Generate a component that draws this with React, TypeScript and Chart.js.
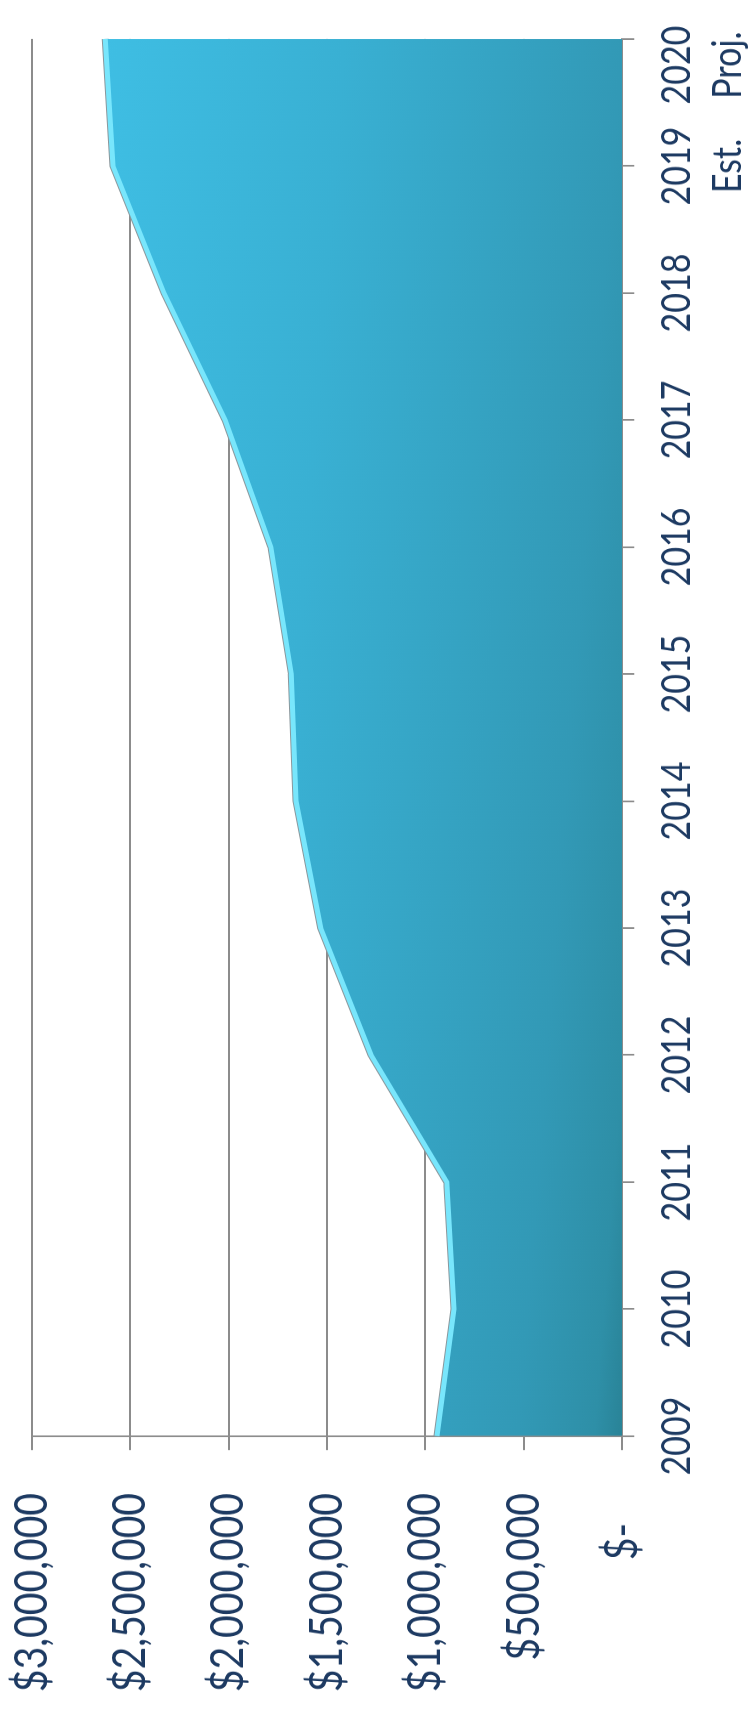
import React, { useEffect, useRef } from 'react';
import { Chart, registerables } from 'chart.js';

Chart.register(...registerables);

// ---- data ----
const categories: (string | string[])[] = [
  '2009', '2010', '2011', '2012', '2013', '2014', '2015', '2016', '2017', '2018',
  ['2019', 'Est.'],
  ['2020      ', 'Proj.      '],
];
const revenue = [941000, 855000, 892000, 1276000, 1532000, 1657000, 1681000, 1785000, 2018000, 2328000, 2587000, 2627000];
const valueTicks = [0, 500000, 1000000, 1500000, 2000000, 2500000, 3000000];
const valueTickLabels = ['$-   ', '$500,000', '$1,000,000', '$1,500,000', '$2,000,000', '$2,500,000', '$3,000,000'];

// ---- geometry (unrotated chart frame) ----
const PAGE_LEN = 1721;
const CANVAS_W = 2025;
const CANVAS_H = 749;
const SX = PAGE_LEN / CANVAS_W;

export default function App() {
  const ref = useRef<HTMLCanvasElement | null>(null);

  useEffect(() => {
    if (!ref.current) return;
    const labelColor = '#1d3a62';
    const gridColor = '#8c8c8c';

    const fillGradient = (ctx: any) => {
      const chart = ctx.chart;
      const ca = chart.chartArea;
      if (!ca) return '#34a8c8';
      const W = ca.right - ca.left;
      const H = ca.bottom - ca.top;
      const a = 0.85;
      const b = 0.15;
      const k = 1 / ((a * a) / (H * H) + (b * b) / (W * W));
      const gv = (k * a) / H;
      const gx = (k * b) / W;
      const g = chart.ctx.createLinearGradient(ca.right, ca.top, ca.right - gx, ca.top + gv);
      g.addColorStop(0, '#40c2e8');
      g.addColorStop(0.45, '#39b0d3');
      g.addColorStop(0.85, '#3299b6');
      g.addColorStop(0.96, '#2e8fa7');
      g.addColorStop(1, '#298397');
      return g;
    };

    const chart = new Chart(ref.current, {
      type: 'line',
      data: {
        labels: categories,
        datasets: [
          {
            data: revenue,
            fill: 'origin',
            backgroundColor: fillGradient,
            borderColor: '#78e6fc',
            borderWidth: 5,
            pointRadius: 0,
            tension: 0,
          },
          {
            data: revenue,
            fill: false,
            borderColor: '#8a979c',
            borderWidth: 7,
            pointRadius: 0,
            tension: 0,
          },
        ],
      },
      options: {
        responsive: false,
        animation: false,
        devicePixelRatio: 1,
        layout: { padding: { top: 31.7, right: 45.9, left: 0, bottom: 0 } },
        plugins: { legend: { display: false }, tooltip: { enabled: false } },
        scales: {
          x: {
            offset: false,
            grid: { drawOnChartArea: false, drawTicks: true, tickLength: 12, color: gridColor, lineWidth: 2 },
            border: { display: true, color: gridColor, width: 2 },
            ticks: {
              color: labelColor,
              font: { family: 'Lato', size: 40, lineHeight: 1.275 },
              padding: 17,
              maxRotation: 0,
              minRotation: 0,
              autoSkip: false,
            },
            afterFit: (scale: any) => {
              scale.height = CANVAS_H - 622.3;
              scale.paddingLeft = 0;
              scale.paddingRight = 0;
            },
          },
          y: {
            min: 0,
            max: 3000000,
            afterBuildTicks: (scale: any) => {
              scale.ticks = valueTicks.map((v) => ({ value: v }));
            },
            grid: { drawOnChartArea: true, drawTicks: true, tickLength: 16.5, color: gridColor, lineWidth: 2 },
            border: { display: true, color: gridColor, width: 2 },
            ticks: {
              color: labelColor,
              font: { family: 'Lato', size: 46 },
              padding: 50.5,
              callback: (_v: any, i: number) => valueTickLabels[i],
            },
            afterFit: (scale: any) => {
              scale.width = 335.3;
              scale.paddingTop = 0;
              scale.paddingBottom = 0;
            },
          },
        },
      },
    });
    return () => chart.destroy();
  }, []);

  return (
    <div
      style={{
        position: 'absolute',
        left: 0,
        top: 0,
        width: CANVAS_W,
        height: CANVAS_H,
        transformOrigin: '0 0',
        transform: `translateY(${PAGE_LEN}px) rotate(-90deg) scaleX(${SX})`,
      }}
    >
      <canvas ref={ref} width={CANVAS_W} height={CANVAS_H} style={{ display: 'block' }} />
    </div>
  );
}
